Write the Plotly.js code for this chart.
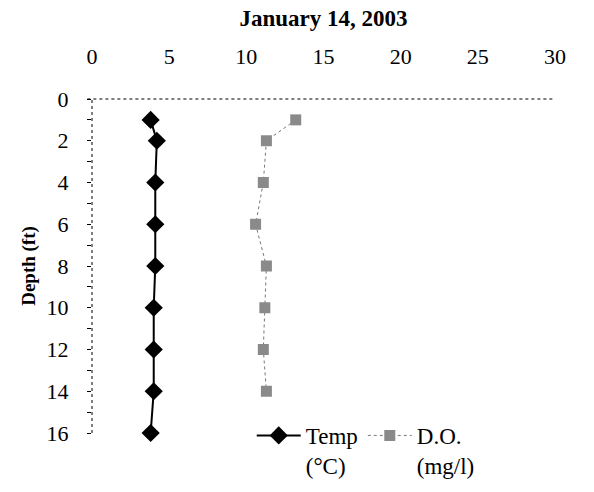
<!DOCTYPE html>
<html>
<head>
<meta charset="utf-8">
<script src="https://cdn.plot.ly/plotly-3.0.1.min.js"></script>
<style>
  html, body { margin: 0; padding: 0; background: #fff; }
  #chart { width: 594px; height: 492px; }
</style>
</head>
<body>
<div id="chart"></div>
<script>
// Depth profile, January 14, 2003
const tempDepth = [1, 2, 4, 6, 8, 10, 12, 14, 16];
const tempValues = [3.8, 4.2, 4.1, 4.1, 4.1, 4.0, 4.0, 4.0, 3.8];   // °C

const doDepth = [1, 2, 4, 6, 8, 10, 12, 14];
const doValues = [13.2, 11.3, 11.1, 10.6, 11.3, 11.2, 11.1, 11.3];   // mg/l

const xTicks = [0, 5, 10, 15, 20, 25, 30];
const yTicks = [0, 2, 4, 6, 8, 10, 12, 14, 16];

const serif = 'Liberation Serif';

const traces = [
  {
    x: tempValues, y: tempDepth, name: 'Temp<br>(°C)',
    type: 'scatter', mode: 'lines+markers', cliponaxis: false,
    line: { color: '#000', width: 2 },
    marker: { symbol: 'diamond', size: 14, color: '#000' }
  },
  {
    x: doValues, y: doDepth, name: 'D.O.<br>(mg/l)',
    type: 'scatter', mode: 'lines+markers', cliponaxis: false,
    line: { color: '#777', width: 1, dash: 'dot' },
    marker: { symbol: 'square', size: 11, color: '#8a8a8a' }
  }
];

const layout = {
  width: 594, height: 492,
  margin: { l: 92, r: 39, t: 99, b: 59, autoexpand: false },
  font: { family: serif, size: 22, color: '#000' },
  paper_bgcolor: '#fff', plot_bgcolor: '#fff',
  showlegend: true,
  title: {
    text: '<b>January 14, 2003</b>',
    font: { family: serif, size: 23, color: '#000' },
    x: 0.5, xref: 'paper', y: 0.963, yanchor: 'middle'
  },
  xaxis: {
    side: 'top', range: [0, 30], tickvals: xTicks,
    showgrid: false, zeroline: false, showline: false,
    ticks: '', ticklabelstandoff: 30,
    tickfont: { family: serif, size: 22, color: '#000' }
  },
  yaxis: {
    range: [16, 0], tickvals: yTicks,
    showgrid: false, zeroline: false, showline: false,
    ticks: 'outside', ticklen: 4, tickcolor: '#000', tickwidth: 1,
    minor: { dtick: 1, ticks: 'outside', ticklen: 4, tickcolor: '#000', showgrid: false },
    ticklabelstandoff: 14,
    tickfont: { family: serif, size: 22, color: '#000' },
    title: { text: '<b>Depth (ft)</b>', font: { family: serif, size: 19, color: '#000' }, standoff: 5 }
  },
  shapes: [
    { type: 'line', xref: 'paper', yref: 'paper', x0: -0.01, x1: 1, y0: 1, y1: 1,
      line: { color: '#000', width: 1, dash: 'dot' } },
    { type: 'line', xref: 'paper', yref: 'paper', x0: 0, x1: 0, y0: 0, y1: 1,
      line: { color: '#000', width: 1, dash: 'dot' } }
  ],
  legend: {
    orientation: 'h', x: 0.345, xanchor: 'left', y: 0.057, yanchor: 'top',
    valign: 'top', bgcolor: 'rgba(0,0,0,0)',
    font: { family: serif, size: 23, color: '#000' },
    itemwidth: 44, tracegroupgap: 0
  }
};

Plotly.newPlot('chart', traces, layout, { displayModeBar: false, staticPlot: true });
</script>
</body>
</html>
